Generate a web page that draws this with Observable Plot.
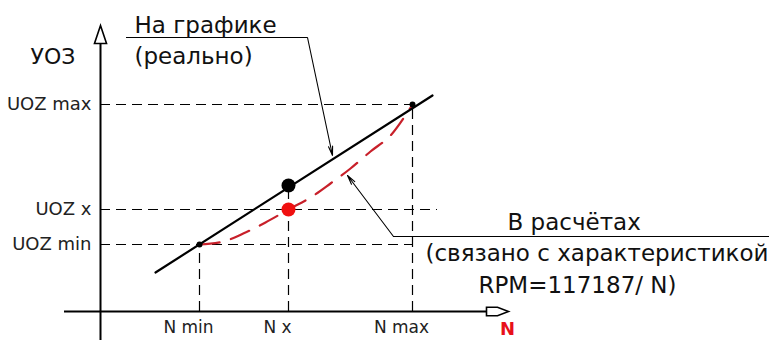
<!DOCTYPE html>
<html>
<head>
<meta charset="utf-8">
<script src="https://cdn.jsdelivr.net/npm/d3@7"></script>
<script src="https://cdn.jsdelivr.net/npm/@observablehq/plot@0.6"></script>
<style>
  html, body { margin: 0; padding: 0; background: #fff; }
</style>
</head>
<body>
<div id="chart"></div>
<script>
// ---- data (schematic units) ----
const N_TICK_LABELS = ["N min", "N x", "N max"];
const N_VALUES = [9.9, 18.8, 31.2];
const UOZ_TICK_LABELS = ["UOZ max", "UOZ x", "UOZ min"];
const UOZ_VALUES = [20.7, 10.2, 6.7];
const UOZ_GUIDE_END = [31.2, 33.7, 31.2];      // horizontal guide end (N)
const N_GUIDE_TOP = [6.7, 12.6, 20.7];         // vertical guide top (UOZ)

// "На графике (реально)" — straight line
const REAL_N = [5.5, 33.2];
const REAL_UOZ = [3.9, 21.6];
// "В расчётах" — curve
const CALC_N = [9.9, 12.3, 14.5, 16.5, 18.8, 21, 23, 25, 27, 29, 31.2];
const CALC_UOZ = [6.7, 7.0, 7.9, 8.9, 10.2, 11.4, 12.8, 14.3, 16.0, 17.6, 20.7];

// points
const PT_N_X = 18.8;
const PT_REAL_UOZ_X = 12.6;
const PT_CALC_UOZ_X = 10.2;

// annotations
const LABEL_TOP = ["На графике", "(реально)"];
const LABEL_BOTTOM = ["В расчётах", "(связано с характеристикой", "RPM=117187/ N)"];
const AXIS_Y_TITLE = "УОЗ";
const AXIS_X_TITLE = "N";

// ---- derived tables ----
const real = REAL_N.map((n, i) => ({N: n, UOZ: REAL_UOZ[i]}));
const calc = CALC_N.map((n, i) => ({N: n, UOZ: CALC_UOZ[i]}));
const hGuides = UOZ_VALUES.map((u, i) => ({y: u, x1: 0, x2: UOZ_GUIDE_END[i]}));
const vGuides = N_VALUES.map((n, i) => ({x: n, y1: 0, y2: N_GUIDE_TOP[i]}));
const uozTicks = UOZ_VALUES.map((u, i) => ({y: u, label: UOZ_TICK_LABELS[i]}));
const nTicks = N_VALUES.map((n, i) => ({x: n, label: N_TICK_LABELS[i]}));

const topText = [
  {x: 3.4, y: 27.9, t: LABEL_TOP[0]},
  {x: 3.4, y: 24.8, t: LABEL_TOP[1]}
];
const botText = [
  {x: 40.7, y: 8.2, t: LABEL_BOTTOM[0]},
  {x: 32.5, y: 5.1, t: LABEL_BOTTOM[1]},
  {x: 37.8, y: 1.9, t: LABEL_BOTTOM[2]}
];

// custom arrowhead symbols
const arrowUp = {
  draw(ctx, size) {
    const r = Math.sqrt(size / Math.PI);
    ctx.moveTo(0, -r);
    ctx.lineTo(r * 0.67, r);
    ctx.lineTo(-r * 0.67, r);
    ctx.closePath();
  }
};
const arrowRight = {
  draw(ctx, size) {
    const r = Math.sqrt(size / Math.PI);
    ctx.moveTo(-r, -r * 0.38);
    ctx.lineTo(0, -r * 0.38);
    ctx.lineTo(r, 0);
    ctx.lineTo(0, r * 0.38);
    ctx.lineTo(-r, r * 0.38);
    ctx.closePath();
  }
};

const FONT = "DejaVu Sans, Arial, sans-serif";

const chart = Plot.plot({
  width: 769,
  height: 340,
  margin: 0,
  x: {domain: [-10, 66.9], axis: null},
  y: {domain: [-2.9, 31.1], axis: null},
  marks: [
    // dashed guides
    Plot.ruleY(hGuides, {y: "y", x1: "x1", x2: "x2", stroke: "#000", strokeWidth: 1.2, strokeDasharray: "10,6"}),
    Plot.ruleX(vGuides, {x: "x", y1: "y1", y2: "y2", stroke: "#000", strokeWidth: 1.2, strokeDasharray: "10,6"}),
    // axes
    Plot.ruleX([0], {y1: -2.9, y2: 27.5, stroke: "#000", strokeWidth: 2}),
    Plot.ruleY([0], {x1: -3.6, x2: 38.6, stroke: "#000", strokeWidth: 2}),
    Plot.dot([{x: 0, y: 27.7}], {x: "x", y: "y", symbol: arrowUp, r: 9, fill: "#fff", stroke: "#000", strokeWidth: 1.6}),
    Plot.dot([{x: 39.7, y: 0}], {x: "x", y: "y", symbol: arrowRight, r: 11, fill: "#fff", stroke: "#000", strokeWidth: 1.6}),
    // leader lines
    Plot.ruleY([27.4], {x1: 2.6, x2: 20.7, stroke: "#000", strokeWidth: 1}),
    Plot.arrow([{x1: 20.7, y1: 27.4, x2: 23.2, y2: 15.6}], {x1: "x1", y1: "y1", x2: "x2", y2: "y2", stroke: "#000", strokeWidth: 1.1, headAngle: 25, headLength: 13}),
    Plot.ruleY([7.5], {x1: 29.3, x2: 66.9, stroke: "#000", strokeWidth: 1}),
    Plot.arrow([{x1: 29.3, y1: 7.5, x2: 24.7, y2: 13.6}], {x1: "x1", y1: "y1", x2: "x2", y2: "y2", stroke: "#000", strokeWidth: 1.1, headAngle: 25, headLength: 13}),
    // curves
    Plot.line(calc, {x: "N", y: "UOZ", curve: "catmull-rom", stroke: "#c8202a", strokeWidth: 2.2, strokeDasharray: "20,12"}),
    Plot.line(real, {x: "N", y: "UOZ", stroke: "#000", strokeWidth: 2.2}),
    // points
    Plot.dot([{x: N_VALUES[0], y: UOZ_VALUES[2]}, {x: N_VALUES[2], y: UOZ_VALUES[0]}], {x: "x", y: "y", r: 3, fill: "#000"}),
    Plot.dot([{x: PT_N_X, y: PT_REAL_UOZ_X}], {x: "x", y: "y", r: 7, fill: "#000"}),
    Plot.dot([{x: PT_N_X, y: PT_CALC_UOZ_X}], {x: "x", y: "y", r: 7, fill: "#f01010"}),
    // tick labels
    Plot.text(uozTicks, {x: -0.9, y: "y", text: "label", textAnchor: "end", fontFamily: FONT, fontSize: 18, fill: "#222"}),
    Plot.text(nTicks, {x: "x", y: -1.6, text: "label", dx: -11, fontFamily: FONT, fontSize: 17, fill: "#222"}),
    // axis titles
    Plot.text([AXIS_Y_TITLE], {x: -7.0, y: 24.8, text: d => d, textAnchor: "start", lineAnchor: "bottom", fontFamily: FONT, fontSize: 22, fill: "#111"}),
    Plot.text([AXIS_X_TITLE], {x: 40.7, y: -1.8, text: d => d, fontFamily: FONT, fontSize: 18, fontWeight: "bold", fill: "#e8101a"}),
    // annotations
    Plot.text(topText, {x: "x", y: "y", text: "t", textAnchor: "start", lineAnchor: "bottom", fontFamily: FONT, fontSize: 23, fill: "#111"}),
    Plot.text(botText, {x: "x", y: "y", text: "t", textAnchor: "start", lineAnchor: "bottom", fontFamily: FONT, fontSize: 23, fill: "#111"})
  ]
});
document.getElementById("chart").appendChild(chart);
</script>
</body>
</html>
